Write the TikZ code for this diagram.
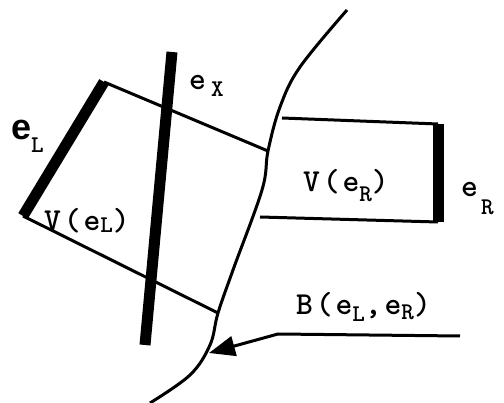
\documentclass[tikz,border=0pt]{standalone}
\usepackage{fontspec}
\newfontfamily\labelfont[LetterSpace=9]{lmmonolt10-bold.otf}
\newfontfamily\boldsans{Liberation Sans}
\usetikzlibrary{arrows.meta}
\newcommand\lowsub[2][8pt]{\raisebox{-#1}{\fontsize{24}{24}\selectfont #2}}
\tikzset{
  edge/.style={line width=11pt},
  wire/.style={line width=3pt},
  lbl/.style={anchor=base west,inner sep=0pt,font=\labelfont\fontsize{32}{34}\selectfont}
}

\begin{document}
\begin{tikzpicture}[x=1pt,y=-1pt]
        \useasboundingbox (0,0) rectangle (504,403);
        % the three edges
        \coordinate (lt) at (104,82);
        \coordinate (lb) at (23,216);
        \coordinate (xt) at (172,52);
        \coordinate (xb) at (145,345);
        \coordinate (rt) at (438,124);
        \coordinate (rb) at (438,222);
        % where the region lines meet the bisector
        \coordinate (blt) at (268,151);
        \coordinate (blb) at (218,313);
        \coordinate (brt) at (282,118);
        \coordinate (brb) at (260,217);
        \draw[wire] (lt) -- (blt);
        \draw[wire] (lb) -- (blb);
        \draw[wire] (brt) -- (rt);
        \draw[wire] (brb) -- (rb);
        \draw[edge] (lt) -- (lb);
        \draw[edge] (xt) -- (xb);
        \draw[edge] (rt) -- (rb);

        % bisector curve
        \draw[wire] plot[smooth,tension=0.6] coordinates {(347,10) (300,67) (280,107) (268,151) (262,190) (233,270) (218,313) (210,345) (190,375) (150,403)};

        % pointer
        \coordinate (pa) at (460,336);
        \coordinate (pb) at (278,334);
        \coordinate (pc) at (209,353);
        \draw[wire,-{Triangle[length=26pt,width=20pt]}] (pa) -- (pb) -- (pc);

        \node[lbl] (ex) at (189,90) {e\hspace{5pt}\lowsub[7pt]{X}};
        \node[lbl] (el) at (11,140) {{\boldsans\bfseries\fontsize{36}{36}\selectfont e}\lowsub[13pt]{L}};
        \node[lbl] (er) at (461,197) {e\hspace{3pt}\lowsub[18pt]{R}};
        \node[lbl] (vl) at (44,231) {V(e\lowsub[2pt]{L})};
        \node[lbl] (vr) at (303,192) {V(e\lowsub[10pt]{R})};
        \node[lbl] (bd) at (296,315) {B(e\lowsub[7pt]{L},e\lowsub[5pt]{R})};
\end{tikzpicture}
\end{document}
